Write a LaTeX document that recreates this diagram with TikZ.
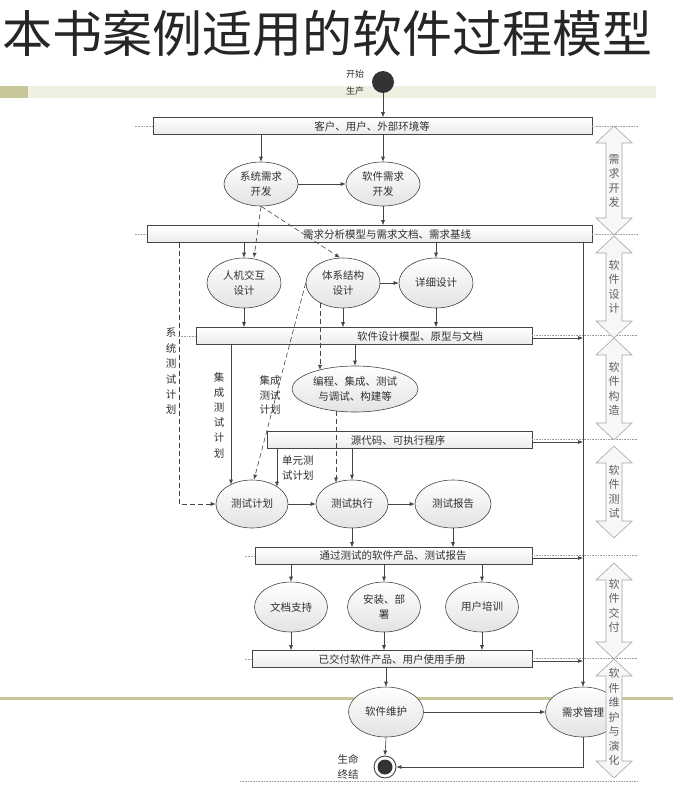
\documentclass[tikz,border=0pt]{standalone}
\usepackage{fontspec}
\setmainfont{Noto Sans CJK SC}
\usetikzlibrary{arrows.meta,shapes.geometric,calc}
\definecolor{olivea}{HTML}{C6C699}
\definecolor{beigea}{HTML}{EFEFE2}
\definecolor{ln}{HTML}{454545}
\definecolor{txt}{HTML}{303030}
\tikzset{
  ell/.style={ellipse, draw=ln, line width=0.6pt, top color=white, bottom color=gray!22,
    minimum width=74pt, minimum height=48pt, inner sep=0pt, align=center,
    font=\fontsize{10.5}{15}\selectfont, text=txt},
  bx/.style={rectangle, draw=ln, line width=0.6pt, top color=white, bottom color=gray!16,
    minimum height=17pt, inner sep=0pt},
  lbl/.style={inner sep=0pt, align=center, font=\fontsize{10.5}{15}\selectfont, text=txt},
  conn/.style={draw=ln, line width=0.6pt, -{Latex[length=5pt,width=4pt]}},
  dconn/.style={conn, dash pattern=on 5pt off 3pt},
  dotl/.style={draw=gray!75, line width=0.5pt, dash pattern=on 0.8pt off 0.8pt},
  varr/.style={draw=gray!70, fill=gray!6, line width=0.6pt},
  vtext/.style={inner sep=0pt, align=center, font=\fontsize{11}{14.5}\selectfont, text=gray!75!black}
}
\newcommand{\vblock}[3]{%
  \draw[varr] (#1,-#2) -- ++(18,-17) -- ++(-10,0) -- (#1+8,-#3+17) -- ++(10,0) -- (#1,-#3)
    -- ++(-18,17) -- ++(10,0) -- (#1-8,-#2-17) -- ++(-10,0) -- cycle;}
\begin{document}
\begin{tikzpicture}[x=1pt,y=1pt]
\useasboundingbox (0,0) rectangle (673,-787);
\fill[white] (0,0) rectangle (673,-787);
% title and decoration bars
\node[inner sep=0pt, font=\fontsize{50}{50}\selectfont, text=black!85] (title) at (327,-33) {本书案例适用的软件过程模型};
\fill[olivea] (0,-86) rectangle (28,-98);
\fill[beigea] (28,-86) rectangle (656,-98);
\draw[olivea, line width=3pt] (0,-698) -- (673,-698);

% start
\node[circle, fill=black!80, minimum size=22pt, inner sep=0pt] (start) at (383,-82) {};
\node[lbl, font=\fontsize{9}{17}\selectfont] (startlbl) at (355,-83) {开始\\生产};

% boxes
\node[bx, minimum width=439pt] (b1) at (372.5,-126) {};
\node[lbl] (b1t) at (372,-126) {客户、用户、外部环境等};
\node[bx, minimum width=445pt] (b2) at (369.5,-234) {};
\node[lbl] (b2t) at (387,-234) {需求分析模型与需求文档、需求基线};
\node[bx, minimum width=336pt] (b3) at (364,-336) {};
\node[lbl] (b3t) at (420,-336) {软件设计模型、原型与文档};
\node[bx, minimum width=265pt] (b4) at (399.5,-440) {};
\node[lbl] (b4t) at (398,-440) {源代码、可执行程序};
\node[bx, minimum width=277pt] (b5) at (393.5,-556) {};
\node[lbl] (b5t) at (393,-556) {通过测试的软件产品、测试报告};
\node[bx, minimum width=280pt] (b6) at (392,-659) {};
\node[lbl] (b6t) at (392,-659) {已交付软件产品、用户使用手册};

% ellipses
\node[ell, minimum height=44pt] (s1) at (261,-184) {系统需求\\开发};
\node[ell, minimum height=44pt] (s2) at (383,-184) {软件需求\\开发};
\node[ell, minimum height=50pt] (d1) at (244,-283) {人机交互\\设计};
\node[ell, minimum height=50pt] (d2) at (343,-283) {体系结构\\设计};
\node[ell, minimum height=50pt] (d3) at (436,-283) {详细设计};
\node[ell, minimum width=126pt, minimum height=46pt] (c1) at (355,-389) {编程、集成、测试\\与调试、构建等};
\node[ell, minimum width=72pt] (t1) at (252,-504) {测试计划};
\node[ell, minimum width=72pt] (t2) at (352,-504) {测试执行};
\node[ell, minimum width=76pt] (t3) at (453,-504) {测试报告};
\node[ell, minimum width=73pt, minimum height=50pt] (v1) at (291,-607) {文档支持};
\node[ell, minimum width=73pt, minimum height=50pt] (v2) at (384,-607) {安装、部\\署};
\node[ell, minimum width=73pt, minimum height=50pt] (v3) at (482,-607) {用户培训};
\node[ell, minimum width=75pt, minimum height=50pt] (m1) at (386,-712) {软件维护};
\node[ell, minimum width=75pt, minimum height=50pt] (m2) at (583,-712) {需求管理};

% end
\node[circle, draw=ln, fill=white, line width=0.9pt, minimum size=22pt, inner sep=0pt] (end) at (385,-767) {};
\fill[black!80] (end.center) circle (7.5pt);
\node[lbl] (endlbl) at (348,-767) {生命\\终结};

% helper coordinates
\coordinate (rv) at (583,-242.5);
\coordinate (x179) at (179,0);
\coordinate (x231) at (231,0);
\coordinate (x277) at (277,0);

% solid connectors
\draw[conn] (start.south) -- (start |- b1.north);
\draw[conn] (s1 |- b1.south) -- (s1.north);
\draw[conn] (s2 |- b1.south) -- (s2.north);
\draw[conn] (s1.east) -- (s2.west);
\draw[conn] (s2.south) -- (s2 |- b2.north);
\draw[conn] (d1 |- b2.south) -- (d1.north);
\draw[conn] (d3 |- b2.south) -- (d3.north);
\draw[conn] (d2.east) -- (d3.west);
\draw[conn] (d1.south) -- (d1 |- b3.north);
\draw[conn] (d2.south) -- (d2 |- b3.north);
\draw[conn] (d3.south) -- (d3 |- b3.north);
\draw[conn] (c1 |- b3.south) -- (c1.north);
\draw[conn] (x231 |- b3.south) -- ($(t1.center)+(-21,19.5)$);
\draw[conn] (x277 |- b4.south) -- ($(t1.center)+(25,17.3)$);
\draw[conn] (t2 |- b4.south) -- (t2.north);
\draw[conn] (t1.east) -- (t2.west);
\draw[conn] (t2.east) -- (t3.west);
\draw[conn] (t2.south) -- (t2 |- b5.north);
\draw[conn] (t3.south) -- (t3 |- b5.north);
\draw[conn] (v1 |- b5.south) -- (v1.north);
\draw[conn] (v2 |- b5.south) -- (v2.north);
\draw[conn] (v3 |- b5.south) -- (v3.north);
\draw[conn] (v1.south) -- (v1 |- b6.north);
\draw[conn] (v2.south) -- (v2 |- b6.north);
\draw[conn] (v3.south) -- (v3 |- b6.north);
\draw[conn] (m1 |- b6.south) -- (m1.north);
\draw[conn] (m1.east) -- (m2.west);
\draw[conn] (m1.south) -- (end.north);
\draw[conn] (m2.south) |- (end.east);
\draw[conn] (rv) -- (m2.north);
\foreach \b in {b3,b4,b5,b6}{
  \coordinate (\b r) at ([yshift=-2pt]\b.east);
  \draw[conn] (\b r) -- (\b r -| rv);
}

% dashed connectors
\draw[dconn] (s1.south) -- ([xshift=10pt]d1.north);
\draw[dconn] (s1.south) -- ([xshift=-3pt]d2.north);
\draw[dconn] (d2.west) -- ([xshift=2pt]t1.north);
\draw[dconn] ($(d2.center)+(-23,-19.6)$) -- ($(c1.center)+(-35,19.1)$);
\draw[dconn] ($(c1.center)+(-19,-21.9)$) -- ($(t2.center)+(-16,21.5)$);
\draw[dconn] (x179 |- b2.south) |- (t1.west);

% dotted guide lines
\draw[dotl] (b1.west) -- ++(-18,0);
\draw[dotl] (b2.west) -- ++(-12,0);
\draw[dotl] (b3.west) -- ++(-18,0);
\draw[dotl] (b5.west) -- ++(-10,0);
\draw[dotl] (b6.west) -- ++(-7,0);
\draw[dotl] (b1.east) -- ++(45,0);
\draw[dotl] (b2.east) -- ++(45,0);
\foreach \b in {b3,b4,b5,b6}{ \draw[dotl] ([yshift=1pt]\b.east) -- ++(105,0); }
\draw[dotl] (240,-781) -- (637,-781);

% labels on connectors
\node[lbl, font=\fontsize{10.5}{15.4}\selectfont] (lsys) at (171,-371.5) {系\\统\\测\\试\\计\\划};
\node[lbl, font=\fontsize{10.5}{15.2}\selectfont] (lint1) at (219,-415) {集\\成\\测\\试\\计\\划};
\node[lbl, font=\fontsize{10.5}{14.5}\selectfont] (lint2) at (270,-395) {集成\\测试\\计划};
\node[lbl, align=left, anchor=west, font=\fontsize{10.5}{15.5}\selectfont] (lunit) at (282,-468) {单元测\\试计划};

% phase arrows
\vblock{614}{126}{235}
\vblock{614}{236}{338}
\vblock{614}{338}{440}
\vblock{614}{446}{538}
\vblock{614}{563}{659}
\vblock{614}{659}{778}
\node[vtext] (p1) at (614,-181) {需\\求\\开\\发};
\node[vtext] (p2) at (614,-287) {软\\件\\设\\计};
\node[vtext] (p3) at (614,-389) {软\\件\\构\\造};
\node[vtext] (p4) at (614,-492) {软\\件\\测\\试};
\node[vtext] (p5) at (614,-606) {软\\件\\交\\付};
\node[vtext] (p6) at (614,-717) {软\\件\\维\\护\\与\\演\\化};
\end{tikzpicture}
\end{document}
